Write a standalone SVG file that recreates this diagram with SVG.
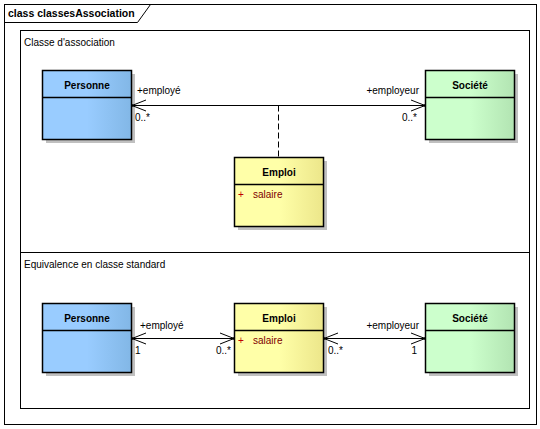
<svg xmlns="http://www.w3.org/2000/svg" width="540" height="429" viewBox="0 0 540 429">
<style>
text{font-family:"Liberation Sans",Arial,sans-serif;font-size:10px;fill:#000}
.t{font-size:10.5px;font-weight:bold}
.b{font-weight:bold;font-size:10px;fill:#000}
.box{stroke:#000;stroke-width:1.5}
.sh{fill:#c0c0c0}
.ln{stroke:#000;stroke-width:1;fill:none}
.attr{fill:#800000}
.plus{fill:#c00000}
</style>
<defs>
<linearGradient id="gb" x1="0" x2="1" y1="0" y2="0"><stop offset="0.5" stop-color="#99ccff"/><stop offset="1" stop-color="#82b7e6"/></linearGradient>
<linearGradient id="gg" x1="0" x2="1" y1="0" y2="0"><stop offset="0.5" stop-color="#ccffcc"/><stop offset="1" stop-color="#b2e4b2"/></linearGradient>
<linearGradient id="gy" x1="0" x2="1" y1="0" y2="0"><stop offset="0.5" stop-color="#ffffa8"/><stop offset="1" stop-color="#ece68a"/></linearGradient>
<marker id="oa" viewBox="0 0 16 14" refX="15" refY="7" markerWidth="16" markerHeight="14" markerUnits="userSpaceOnUse" orient="auto-start-reverse" overflow="visible">
<path d="M1,1.5 L15,7 L1,12.5" fill="none" stroke="#000" stroke-width="1"/>
<circle cx="14.5" cy="7" r="1.3" fill="#000"/>
</marker>
</defs>
<rect width="540" height="429" fill="#fff"/>
<g id="frame">
<rect x="4.5" y="4.5" width="532" height="420" fill="none" stroke="#000" stroke-width="1"/>
<path d="M4.5,22.5 H137.5 L150.5,4.5" fill="none" stroke="#000" stroke-width="1"/>
<text x="8" y="17" class="t">class classesAssociation</text>
</g>
<g id="partitions">
<rect x="20.5" y="30.5" width="509" height="378" fill="none" stroke="#000" stroke-width="1"/>
<line x1="20.5" y1="252.5" x2="529.5" y2="252.5" stroke="#000" stroke-width="1"/>
<text x="24" y="46">Classe d'association</text>
<text x="24" y="268">Equivalence en classe standard</text>
</g>
<g id="personne1">
<rect class="sh" x="46" y="74" width="89" height="69"/>
<rect class="box" x="42.5" y="70.5" width="89" height="69" fill="url(#gb)"/>
<line class="box" x1="42.5" y1="97.5" x2="131.5" y2="97.5"/>
<text class="b" x="87" y="89" text-anchor="middle">Personne</text>
</g>
<g id="societe1">
<rect class="sh" x="429" y="74" width="89" height="69"/>
<rect class="box" x="425.5" y="70.5" width="89" height="69" fill="url(#gg)"/>
<line class="box" x1="425.5" y1="97.5" x2="514.5" y2="97.5"/>
<text class="b" x="470" y="89" text-anchor="middle">Société</text>
</g>
<g id="emploi1">
<rect class="sh" x="238" y="161" width="89" height="69"/>
<rect class="box" x="234.5" y="157.5" width="89" height="69" fill="url(#gy)"/>
<line class="box" x1="234.5" y1="184.5" x2="323.5" y2="184.5"/>
<text class="b" x="279" y="176" text-anchor="middle">Emploi</text>
<text class="plus" x="238" y="198">+</text>
<text class="attr" x="253" y="198">salaire</text>
</g>
<g id="personne2">
<rect class="sh" x="46" y="307" width="89" height="69"/>
<rect class="box" x="42.5" y="303.5" width="89" height="69" fill="url(#gb)"/>
<line class="box" x1="42.5" y1="330.5" x2="131.5" y2="330.5"/>
<text class="b" x="87" y="322" text-anchor="middle">Personne</text>
</g>
<g id="emploi2">
<rect class="sh" x="238" y="307" width="89" height="69"/>
<rect class="box" x="234.5" y="303.5" width="89" height="69" fill="url(#gy)"/>
<line class="box" x1="234.5" y1="330.5" x2="323.5" y2="330.5"/>
<text class="b" x="279" y="322" text-anchor="middle">Emploi</text>
<text class="plus" x="238" y="344">+</text>
<text class="attr" x="253" y="344">salaire</text>
</g>
<g id="societe2">
<rect class="sh" x="429" y="307" width="89" height="69"/>
<rect class="box" x="425.5" y="303.5" width="89" height="69" fill="url(#gg)"/>
<line class="box" x1="425.5" y1="330.5" x2="514.5" y2="330.5"/>
<text class="b" x="470" y="322" text-anchor="middle">Société</text>
</g>
<g id="connectors">
<line class="ln" x1="132" y1="105.5" x2="425" y2="105.5" marker-start="url(#oa)" marker-end="url(#oa)"/>
<line class="ln" x1="278.5" y1="105.5" x2="278.5" y2="157" stroke-dasharray="6,3"/>
<line class="ln" x1="132" y1="338.5" x2="234" y2="338.5" marker-start="url(#oa)" marker-end="url(#oa)"/>
<line class="ln" x1="324" y1="338.5" x2="425" y2="338.5" marker-start="url(#oa)" marker-end="url(#oa)"/>
<text x="137" y="94">+employé</text>
<text x="135" y="121">0..*</text>
<text x="419" y="94" text-anchor="end">+employeur</text>
<text x="417" y="121" text-anchor="end">0..*</text>
<text x="140" y="329">+employé</text>
<text x="135" y="354">1</text>
<text x="231" y="354" text-anchor="end">0..*</text>
<text x="328" y="354">0..*</text>
<text x="419" y="329" text-anchor="end">+employeur</text>
<text x="417" y="354" text-anchor="end">1</text>
</g>
</svg>
